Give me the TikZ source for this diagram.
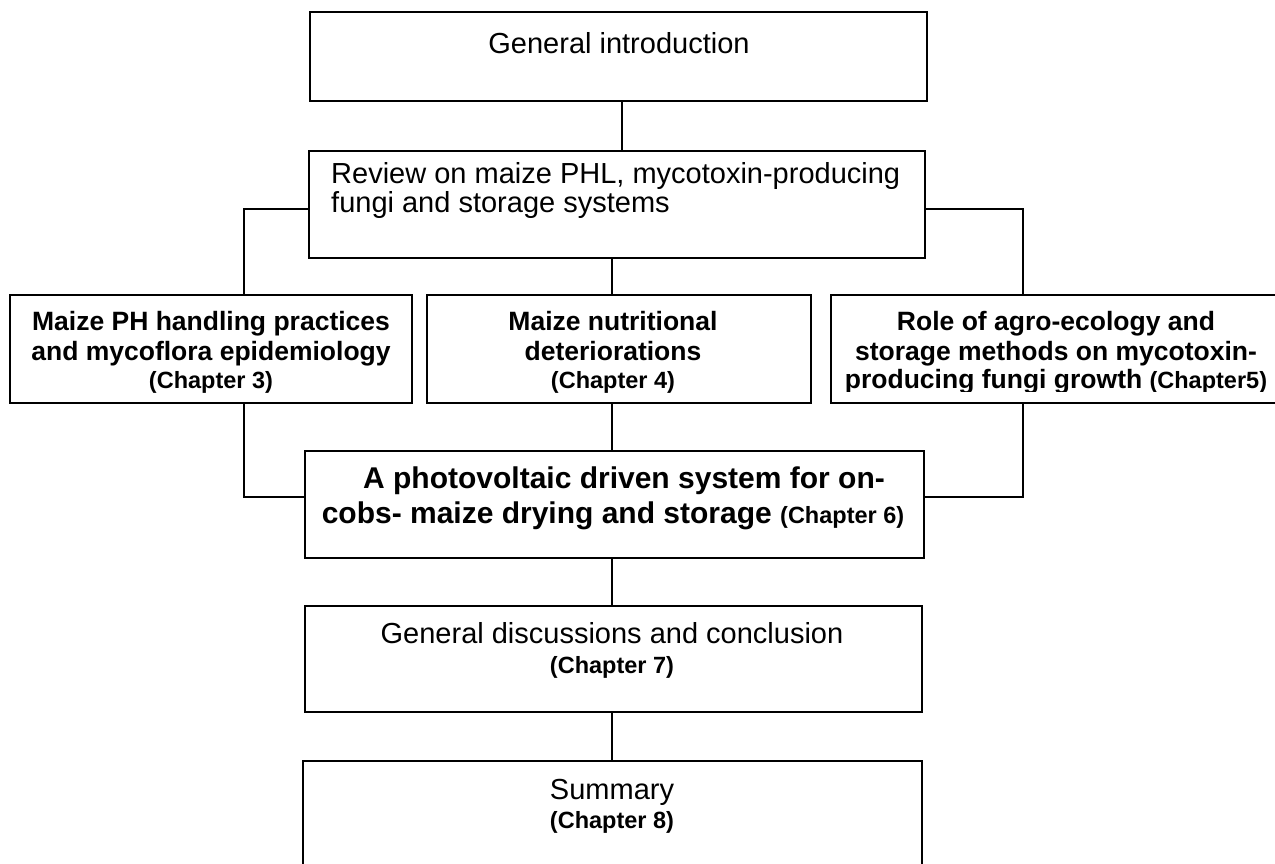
\documentclass[tikz,border=0pt]{standalone}
\usepackage{fontspec}
\setmainfont{Liberation Sans}
\newcommand\regf{\fontsize{29}{33}\selectfont}
\newcommand\boldf{\fontsize{26.5}{30}\selectfont\bfseries}
\newcommand\pvf{\fontsize{30}{34}\selectfont\bfseries}
\newcommand\chapf{\fontsize{23.5}{27}\selectfont\bfseries}
\begin{document}
\begin{tikzpicture}[x=1pt,y=-1pt,
  box/.style={draw=black,line width=1.8pt,fill=none,inner sep=0pt,outer sep=0pt},
  conn/.style={draw=black,line width=1.4pt},
  rtxt/.style={anchor=base,inner sep=0pt,font=\regf},
  btxt/.style={anchor=base,inner sep=0pt,font=\boldf},
  ptxt/.style={anchor=base,inner sep=0pt,font=\pvf},
  ctxt/.style={anchor=base,inner sep=0pt,font=\chapf}]
\useasboundingbox (0,0) rectangle (1275,864);
% boxes
\node[box,minimum width=617pt,minimum height=89pt] (intro) at (618.5,56.5) {};
\node[box,minimum width=616pt,minimum height=107pt] (review) at (617,204.5) {};
\node[box,minimum width=402pt,minimum height=108pt] (ph) at (211,349) {};
\node[box,minimum width=384pt,minimum height=108pt] (nut) at (619,349) {};
\node[box,minimum width=456pt,minimum height=108pt] (role) at (1059,349) {};
\node[box,minimum width=619pt,minimum height=107pt] (pv) at (614.5,504.5) {};
\node[box,minimum width=617pt,minimum height=106pt] (disc) at (613.5,659) {};
\node[box,minimum width=619pt,minimum height=129pt] (summ) at (612.5,825.5) {};
% helper coordinates
\coordinate (ct) at (622,0);
\coordinate (cm) at (612,0);
\coordinate (jl) at (244,209);
\coordinate (jr) at (1023,209);
\coordinate (kl) at (244,497);
\coordinate (kr) at (1023,497);
% connectors
\draw[conn] (intro.south -| ct) -- (review.north -| ct);
\draw[conn] (review.west |- jl) -| (ph.north -| jl);
\draw[conn] (review.east |- jr) -| (role.north -| jr);
\draw[conn] (review.south -| cm) -- (nut.north -| cm);
\draw[conn] (ph.south -| kl) |- (pv.west |- kl);
\draw[conn] (role.south -| kr) |- (pv.east |- kr);
\draw[conn] (nut.south -| cm) -- (pv.north -| cm);
\draw[conn] (pv.south -| cm) -- (disc.north -| cm);
\draw[conn] (disc.south -| cm) -- (summ.north -| cm);
% texts
\node[rtxt] (t1) at (619,54) {General introduction};
\node[rtxt,anchor=base west] (t2a) at (331,183) {Review on maize PHL, mycotoxin-producing};
\node[rtxt,anchor=base west] (t2b) at (331,212) {fungi and storage systems};
\node[btxt] (t3a) at (211,330) {Maize PH handling practices};
\node[btxt] (t3b) at (211,360) {and mycoflora epidemiology};
\node[ctxt] (t3c) at (211,388) {(Chapter 3)};
\node[btxt] (t4a) at (613,330) {Maize nutritional};
\node[btxt] (t4b) at (613,360) {deteriorations};
\node[ctxt] (t4c) at (613,388) {(Chapter 4)};
\begin{scope}
\clip (831,295) rectangle (1290,391.5);
\node[btxt] (t5a) at (1056,330) {Role of agro-ecology and};
\node[btxt] (t5b) at (1056,360) {storage methods on mycotoxin-};
\node[btxt] (t5c) at (1056,388) {producing fungi growth {\chapf(Chapter5)}};
\end{scope}
\node[ptxt] (t6a) at (624,488) {A photovoltaic driven system for on-};
\node[ptxt] (t6b) at (613,523) {cobs- maize drying and storage {\chapf(Chapter 6)}};
\node[rtxt] (t7a) at (612,643) {General discussions and conclusion};
\node[ctxt] (t7b) at (612,673) {(Chapter 7)};
\node[rtxt] (t8a) at (612,799) {Summary};
\node[ctxt] (t8b) at (612,828) {(Chapter 8)};
\end{tikzpicture}
\end{document}
